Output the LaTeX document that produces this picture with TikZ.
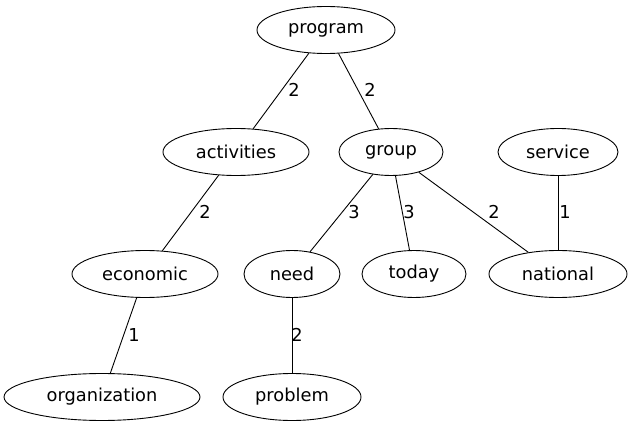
\documentclass[tikz,border=0pt]{standalone}
\usepackage{fontspec}
\setmainfont{DejaVu Sans}
\usetikzlibrary{shapes.geometric}

\begin{document}
\begin{tikzpicture}[
x=1pt, y=1pt,
word/.style={ellipse, draw=black, line width=0.9pt, inner sep=0pt, minimum height=47pt,
    font=\fontsize{17.8}{20}\selectfont},
weight/.style={inner sep=1pt, font=\fontsize{17.8}{20}\selectfont},
link/.style={draw, line width=0.9pt}
]
\useasboundingbox (0,0) rectangle (632,429);

% top
\node [word, minimum width=138pt] (program) at (326,399) {program};
% middle row
\node [word, minimum width=146pt] (activities) at (236,277) {activities};
\node [word, minimum width=104pt] (group) at (391,277) {group};
\node [word, minimum width=120pt] (service) at (558,277) {service};
% lower row
\node [word, minimum width=146pt] (economic) at (145,155) {economic};
\node [word, minimum width=96pt] (need) at (292,155) {need};
\node [word, minimum width=104pt] (today) at (414,155) {today};
\node [word, minimum width=138pt] (national) at (558,155) {national};
% bottom row
\node [word, minimum width=196pt] (organization) at (102,32) {organization};
\node [word, minimum width=138pt] (problem) at (292,32) {problem};

% edges
\path [link] (program) -- (activities);
\path [link] (program) -- (group);
\path [link] (activities) -- (economic);
\path [link] (group) -- (need);
\path [link] (group) -- (today);
\path [link] (group) -- (national);
\path [link] (service) -- (national);
\path [link] (economic) -- (organization);
\path [link] (need) -- (problem);

% weights
\node [weight] (w-pa) at (294,339) {2};
\node [weight] (w-pg) at (370,339) {2};
\node [weight] (w-ae) at (205,217) {2};
\node [weight] (w-gn) at (354,217) {3};
\node [weight] (w-gt) at (409,217) {3};
\node [weight] (w-gl) at (494,217) {2};
\node [weight] (w-sl) at (565,217) {1};
\node [weight] (w-eo) at (134,94) {1};
\node [weight] (w-np) at (297,94) {2};
\end{tikzpicture}
\end{document}
